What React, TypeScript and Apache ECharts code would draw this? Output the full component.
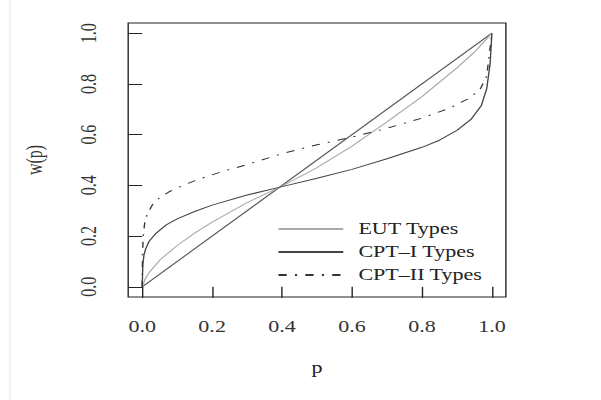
import React, { useEffect, useRef } from "react";
import * as echarts from "echarts";

// ---- data ----
const tickValues = [0, 0.2, 0.4, 0.6, 0.8, 1.0];

const eutP = [0, 0.01, 0.02, 0.05, 0.1, 0.15, 0.2, 0.3, 0.4, 0.5, 0.6, 0.7, 0.8, 0.9, 0.95, 1];
const eutW = [0, 0.035, 0.057, 0.105, 0.163, 0.212, 0.255, 0.332, 0.397, 0.47, 0.555, 0.65, 0.75, 0.863, 0.925, 1];

const cpt1P = [0, 0.002, 0.005, 0.01, 0.02, 0.04, 0.07, 0.1, 0.15, 0.2, 0.3, 0.4, 0.5, 0.6, 0.7, 0.8, 0.85, 0.9, 0.94, 0.97, 0.985, 0.995, 1];
const cpt1W = [0, 0.09, 0.125, 0.15, 0.18, 0.212, 0.245, 0.268, 0.297, 0.322, 0.362, 0.395, 0.428, 0.463, 0.505, 0.55, 0.578, 0.617, 0.66, 0.715, 0.78, 0.88, 1];

const cpt2P = [0, 0.001, 0.003, 0.007, 0.015, 0.03, 0.05, 0.08, 0.12, 0.17, 0.23, 0.3, 0.4, 0.5, 0.6, 0.7, 0.8, 0.88, 0.93, 0.965, 0.985, 1];
const cpt2W = [0, 0.13, 0.2, 0.25, 0.29, 0.325, 0.352, 0.377, 0.402, 0.428, 0.455, 0.482, 0.525, 0.56, 0.59, 0.625, 0.665, 0.705, 0.74, 0.775, 0.83, 1];

const diagP = [0, 1];
const diagW = [0, 1];

const seriesNames = ["EUT Types", "CPT\u2013I Types", "CPT\u2013II Types"];

const zip = (a: number[], b: number[]) => a.map((v, i) => [v, b[i]]);

const STRETCH = 601 / 436;
const FONT = "Liberation Serif, Times New Roman, serif";

export default function App() {
  const ref = useRef<HTMLDivElement>(null);

  useEffect(() => {
    document.body.style.margin = "0";
    const chart = echarts.init(ref.current!, null, { renderer: "svg" });
    const fmt = (v: number) => v.toFixed(1);
    chart.setOption({
      animation: false,
      backgroundColor: "#ffffff",
      textStyle: { fontFamily: FONT },
      grid: {
        left: 93,
        right: 69,
        top: 23,
        bottom: 103,
        show: true,
        borderColor: "#222",
        borderWidth: 1,
        backgroundColor: "transparent",
      },
      xAxis: {
        type: "value",
        min: -0.04,
        max: 1.04,
        name: "p",
        nameLocation: "middle",
        nameGap: 63,
        nameTextStyle: { fontFamily: FONT, fontSize: 16, color: "#222" },
        axisLine: { show: false },
        splitLine: { show: false },
        axisTick: {
          show: true,
          inside: false,
          length: 11,
          customValues: tickValues,
          lineStyle: { color: "#222", width: 1 },
        },
        axisLabel: {
          customValues: tickValues,
          formatter: fmt,
          margin: 22,
          fontFamily: FONT,
          fontSize: 16,
          color: "#333",
        },
      },
      yAxis: {
        type: "value",
        min: -0.04,
        max: 1.04,
        name: "w(p)",
        nameLocation: "middle",
        nameGap: 60,
        nameRotate: 90,
        nameTextStyle: { fontFamily: FONT, fontSize: 16, color: "#333" },
        axisLine: { show: false },
        splitLine: { show: false },
        axisTick: {
          show: true,
          inside: false,
          length: 10,
          customValues: tickValues,
          lineStyle: { color: "#222", width: 1 },
        },
        axisLabel: {
          customValues: tickValues,
          formatter: fmt,
          rotate: 90,
          margin: 21,
          fontFamily: FONT,
          fontSize: 16,
          color: "#333",
        },
      },
      legend: {
        data: seriesNames,
        orient: "vertical",
        left: 196,
        top: 216,
        itemWidth: 47,
        itemHeight: 16,
        itemGap: 7,
        itemStyle: { opacity: 0 },
        textStyle: { fontFamily: FONT, fontSize: 16, color: "#222", padding: [0, 0, 0, 6] },
      },
      graphic: [
        {
          type: "line",
          shape: { x1: 7.2, y1: 0, x2: 7.2, y2: 400 },
          style: { stroke: "#ececec", lineWidth: 1 },
          silent: true,
        },
      ],
      series: [
        {
          name: "diagonal",
          type: "line",
          data: zip(diagP, diagW),
          symbol: "none",
          lineStyle: { color: "#555", width: 1 },
          itemStyle: { color: "#555" },
        },
        {
          name: seriesNames[0],
          type: "line",
          data: zip(eutP, eutW),
          symbol: "none",
          lineStyle: { color: "#aaaaaa", width: 1 },
          itemStyle: { color: "#aaaaaa" },
        },
        {
          name: seriesNames[1],
          type: "line",
          data: zip(cpt1P, cpt1W),
          symbol: "none",
          lineStyle: { color: "#444", width: 1 },
          itemStyle: { color: "#444" },
        },
        {
          name: seriesNames[2],
          type: "line",
          data: zip(cpt2P, cpt2W),
          symbol: "none",
          lineStyle: { color: "#333", width: 1, type: [6, 6, 1.5, 6] },
          itemStyle: { color: "#333" },
        },
      ],
    });
    return () => chart.dispose();
  }, []);

  return (
    <div
      style={{
        position: "fixed",
        left: 0,
        top: 0,
        width: 601,
        height: 400,
        overflow: "hidden",
        background: "#fff",
      }}
    >
      <div
        ref={ref}
        style={{
          width: 436,
          height: 400,
          transform: `scaleX(${STRETCH})`,
          transformOrigin: "0 0",
        }}
      />
    </div>
  );
}
